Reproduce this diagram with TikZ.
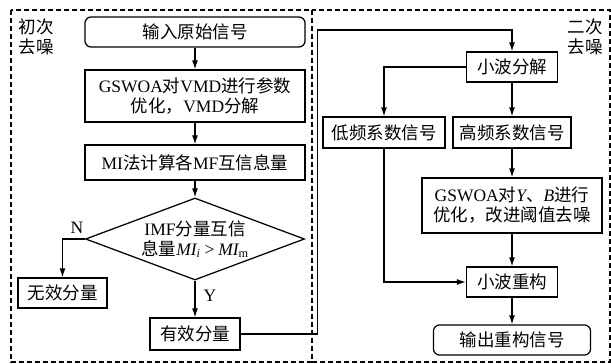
\documentclass[tikz,border=0pt]{standalone}
\usepackage{fontspec}
\setmainfont{Liberation Serif}
\newfontfamily\cjk{Noto Sans CJK SC}
\newcommand{\zh}[1]{{\cjk #1}}
\usetikzlibrary{shapes.geometric,arrows.meta}
\begin{document}
\begin{tikzpicture}[x=1pt,y=-1pt,
  font=\fontsize{17.5}{20}\selectfont,
  box/.style={draw, line width=1.25pt, inner sep=0pt, align=center},
  rbox/.style={box, rounded corners=6pt},
  arr/.style={line width=1.25pt, -{Latex[length=9pt,width=6pt]}},
  region/.style={draw, line width=1.1pt, dash pattern=on 5pt off 3pt},
  lab/.style={inner sep=0pt, align=center}]
\useasboundingbox (0,0) rectangle (611,364);
% regions
\draw[region] (11,10) rectangle (312,362);
\draw[region] (312,10) rectangle (610,362);
\node[lab] (t1) at (36.5,37) {\zh{初次}\\\zh{去噪}};
\node[lab] (t2) at (585,37) {\zh{二次}\\\zh{去噪}};
% left column
\node[rbox, minimum width=220pt, minimum height=30pt] (in) at (195,32) {\zh{输入原始信号}};
\node[box, minimum width=220pt, minimum height=52pt] (vmd) at (195,96)
  {GSWOA\zh{对}VMD\zh{进行参数}\\\zh{优化，}VMD\zh{分解}};
\node[box, minimum width=220pt, minimum height=35pt] (mi) at (195,162.5)
  {MI\zh{法计算各}MF\zh{互信息量}};
\node[draw, line width=1.25pt, diamond, aspect=2.67, minimum width=219pt, minimum height=82pt, inner sep=0pt] (dec) at (195,239) {};
\node[lab] (dectext) at (dec.center)
  {IMF\zh{分量互信}\\\zh{息量}{\itshape MI}\textsubscript{\itshape i}\,{\itshape >}\,{\itshape MI}\textsubscript{m}};
\node[box, minimum width=89pt, minimum height=30pt] (inv) at (62.5,293) {\zh{无效分量}};
\node[box, minimum width=90pt, minimum height=32pt] (val) at (195,334) {\zh{有效分量}};
\node[lab] (nlab) at (77,228) {N};
\node[lab] (ylab) at (210,296) {Y};
% right column
\node[box, minimum width=91pt, minimum height=30pt] (wd) at (512,67) {\zh{小波分解}};
\node[box, minimum width=122pt, minimum height=31pt] (low) at (384,132.5) {\zh{低频系数信号}};
\node[box, minimum width=118pt, minimum height=31pt] (high) at (512,132.5) {\zh{高频系数信号}};
\node[box, minimum width=180pt, minimum height=55pt] (opt) at (512,205.5)
  {GSWOA\zh{对}{\itshape Y}\zh{、}{\itshape B}\zh{进行}\\\zh{优化，改进阈值去噪}};
\node[box, minimum width=91pt, minimum height=30pt] (rec) at (512,282) {\zh{小波重构}};
\node[rbox, minimum width=157pt, minimum height=30pt] (out) at (512,340) {\zh{输出重构信号}};
\coordinate (c1) at (317.5,30);
% connectors
\draw[arr] (in) -- (vmd);
\draw[arr] (vmd) -- (mi);
\draw[arr] (mi) -- (dec.north);
\draw[arr] (dec.west) -| (inv.north);
\draw[arr] (dec.south) -- (val.north);
\draw[arr] (val.east) -| (c1) -| (wd.north);
\draw[arr] (wd.west) -| (low.north);
\draw[arr] (wd) -- (high);
\draw[arr] (high) -- (opt);
\draw[arr] (opt) -- (rec);
\draw[arr] (low.south) |- (rec.west);
\draw[arr] (rec) -- (out);
\end{tikzpicture}
\end{document}
